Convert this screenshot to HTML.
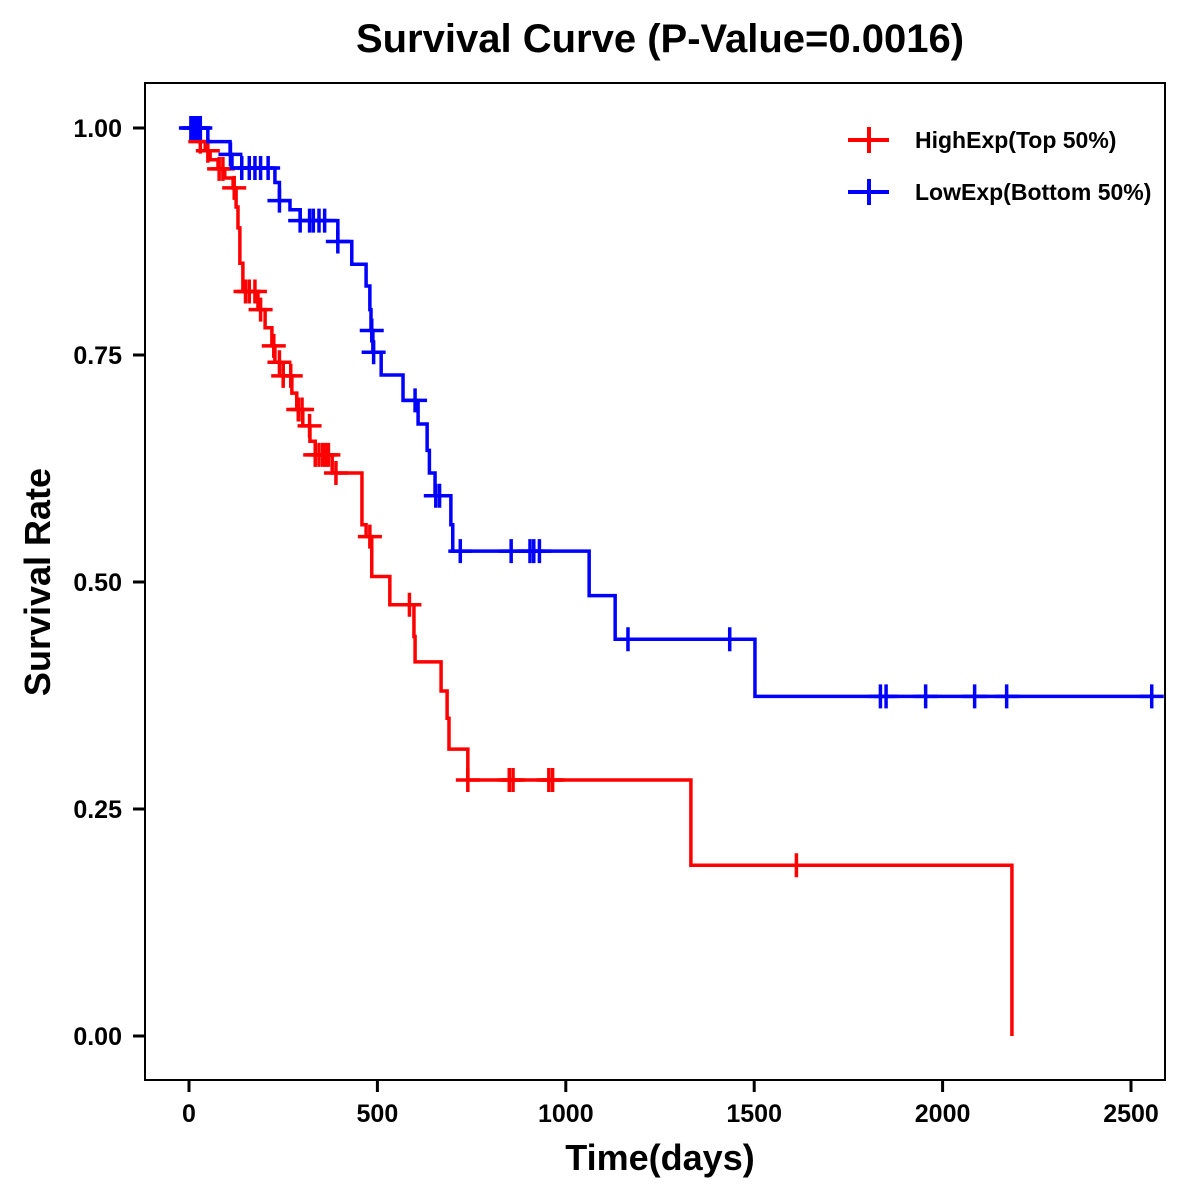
<!DOCTYPE html>
<html><head><meta charset="utf-8"><style>
body{margin:0;background:#fff;}
svg{display:block;font-family:"Liberation Sans",Arial,sans-serif;font-weight:bold;}
</style></head><body>
<svg id="chart" width="1200" height="1200" viewBox="0 0 1200 1200">
<rect x="0" y="0" width="1200" height="1200" fill="#fff"/>
<text x="660" y="52" font-size="40" text-anchor="middle">Survival Curve (P-Value=0.0016)</text>
<rect x="145" y="83" width="1020" height="997" fill="none" stroke="#000" stroke-width="2"/>
<g id="axes"></g>
<g id="series"></g>
<text x="660" y="1170" font-size="36" text-anchor="middle">Time(days)</text>
<text transform="translate(50,582) rotate(-90)" font-size="36" text-anchor="middle">Survival Rate</text>
<g>
<g>
<line x1="848" y1="140" x2="889" y2="140" stroke="#f00" stroke-width="4"/><line x1="869" y1="127" x2="869" y2="153" stroke="#f00" stroke-width="4"/>
<text x="915" y="148" font-size="23">HighExp(Top 50%)</text></g>
<g>
<line x1="848" y1="192" x2="889" y2="192" stroke="#00f" stroke-width="4"/><line x1="869" y1="179" x2="869" y2="205" stroke="#00f" stroke-width="4"/>
<text x="915" y="200" font-size="23">LowExp(Bottom 50%)</text></g>
</g>
</svg>
<script>
const xTicks=[0,500,1000,1500,2000,2500];
const yTicks=[0,0.25,0.5,0.75,1.0];
const yTickLabels=["0.00","0.25","0.50","0.75","1.00"];
const highTimes=[0,30,43,56,77,95,117,125,130,135,143,183,202,220,228,250,273,286,302,321,335,380,459,470,485,533,597,600,669,685,690,740,1332,2184];
const highSurv=[1.0,0.985,0.975,0.965,0.955,0.945,0.934,0.913,0.89,0.851,0.82,0.80,0.78,0.76,0.742,0.727,0.708,0.69,0.672,0.655,0.64,0.62,0.563,0.55,0.506,0.475,0.44,0.412,0.38,0.35,0.316,0.282,0.188,0.0];
const highEnd=2184;
const highCensorT=[20,30,50,80,90,120,150,160,175,190,225,240,250,270,290,300,320,335,345,355,362,370,390,480,585,740,850,860,955,965,1612];
const lowTimes=[0,50,109,114,228,240,268,295,395,432,470,480,483,488,510,568,608,632,638,653,695,700,1062,1131,1502];
const lowSurv=[1.0,0.985,0.971,0.956,0.94,0.92,0.91,0.898,0.875,0.85,0.826,0.80,0.777,0.753,0.728,0.70,0.674,0.645,0.62,0.595,0.563,0.534,0.485,0.437,0.374];
const lowEnd=2560;
const lowCensorT=[5,10,15,20,25,30,110,140,160,175,190,210,240,295,320,330,345,360,395,485,490,600,655,665,720,855,905,915,930,1165,1435,1835,1850,1955,2085,2170,2555];
const NS='http://www.w3.org/2000/svg';
const xs=t=>189+t*(1131-189)/2500;
const ys=s=>1036-908*s;
function mk(tag,attrs,parent){const e=document.createElementNS(NS,tag);for(const k in attrs)e.setAttribute(k,attrs[k]);parent.appendChild(e);return e;}
const axes=document.getElementById('axes');
xTicks.forEach(t=>{
 const l=mk('line',{x1:xs(t),x2:xs(t),y1:1080,y2:1092,stroke:'#000','stroke-width':3},axes);
 
 
 const tx=mk('text',{x:xs(t),y:1122,'font-size':25,'text-anchor':'middle'},axes);tx.textContent=t;
 
 
});
yTicks.forEach((v,i)=>{
 const l=mk('line',{x1:133,x2:145,y1:ys(v),y2:ys(v),stroke:'#000','stroke-width':3},axes);
 
 
 const tx=mk('text',{x:122,y:ys(v)+9,'font-size':25,'text-anchor':'end'},axes);tx.textContent=yTickLabels[i];
 
 
});
function survAt(times,surv,t){let s=surv[0];for(let i=0;i<times.length;i++){if(times[i]<=t)s=surv[i];}return s;}
function drawSeries(times,surv,end,cens,color,name){
 const g=mk('g',{},document.getElementById('series'));
 
 
 let d='M'+xs(times[0])+','+ys(surv[0]);
 for(let i=1;i<times.length;i++){d+=' H'+xs(times[i])+' V'+ys(surv[i]);}
 d+=' H'+xs(end);
 const p=mk('path',{d:d,fill:'none',stroke:color,'stroke-width':3.5},g);
 
 
 cens.forEach(t=>{
  const s=survAt(times,surv,t);const cx=xs(t),cy=ys(s);
  const c=mk('path',{d:`M${cx-12},${cy} H${cx+12} M${cx},${cy-12} V${cy+12}`,stroke:color,'stroke-width':3.5,fill:'none'},g);
  
  
 });
}
drawSeries(highTimes,highSurv,highEnd,highCensorT,'#f00','high-exp');
drawSeries(lowTimes,lowSurv,lowEnd,lowCensorT,'#00f','low-exp');
</script>
</body></html>
